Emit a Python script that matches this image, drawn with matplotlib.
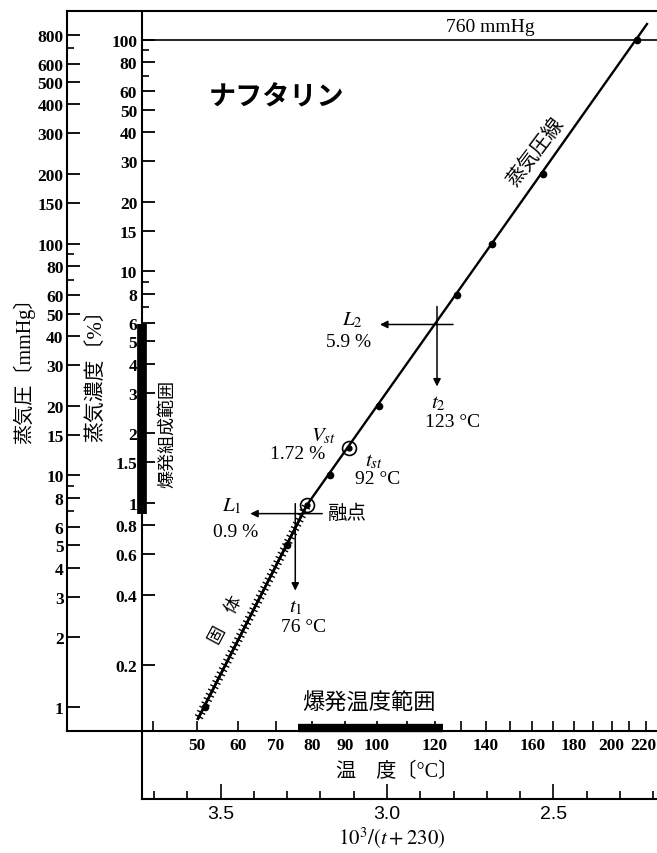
import numpy as np
import matplotlib
matplotlib.use("Agg")
import matplotlib.pyplot as plt
from matplotlib import patheffects as pe
from matplotlib.transforms import ScaledTranslation, blended_transform_factory
from matplotlib.ticker import NullFormatter

# ------------------------------------------------------------------ data
# vapour-pressure line of naphthalene  (temperature °C , pressure mmHg)
solid_t = [50.3, 78.6]
solid_p = [0.89, 7.45]
liquid_t = [78.6, 220.6]
liquid_p = [7.45, 889.0]
dot_t = [52.0, 73.0, 85.3, 100.7, 128.4, 142.5, 165.0, 214.6]
dot_p = [1.0, 5.0, 10.0, 20.0, 60.0, 100.0, 200.0, 760.0]
melt_t, melt_p = 78.6, 7.45
vst_t, vst_pct = 91.0, 1.72          # stoichiometric point
tst_label = 92
L1_pct, t1_label = 0.9, 76           # lower explosion limit
L2_pct, t2_label = 5.9, 123          # upper explosion limit
cross1_t, cross2_t = 75.3, 120.9     # where the limit crosses are drawn
atm_p = 760.0
pct_per_mmHg = 100.0 / 760.0

mm_major = [1, 2, 3, 4, 5, 6, 8, 10, 15, 20, 30, 40, 50, 60, 80, 100,
            150, 200, 300, 400, 500, 600, 800]
mm_minor = [7, 9, 70, 90, 700]
pct_major = [0.2, 0.4, 0.6, 0.8, 1, 1.5, 2, 3, 4, 5, 6, 8, 10, 15, 20,
             30, 40, 50, 60, 80, 100]
pct_labels = ["0.2", "0.4", "0.6", "0.8", "1", "1.5", "2", "3", "4", "5",
              "6", "8", "10", "15", "20", "30", "40", "50", "60", "80", "100"]
pct_minor = [7, 9, 70, 90]
temp_ticks = [40, 50, 60, 70, 80, 90, 100, 110, 120, 130, 140, 150, 160,
              170, 180, 190, 200, 210, 220]
temp_labels = [50, 60, 70, 80, 90, 100, 120, 140, 160, 180, 200, 220]
inv_major = [3.5, 3.0, 2.5]
inv_minor = [3.7, 3.6, 3.4, 3.3, 3.2, 3.1, 2.9, 2.8, 2.7, 2.6, 2.4, 2.3, 2.2]

# ------------------------------------------------------------------ fonts
plt.rcParams["font.family"] = ["Liberation Serif", "Noto Sans CJK JP"]
plt.rcParams["mathtext.fontset"] = "stix"
JP = ["Noto Sans CJK JP", "Liberation Serif"]
MIX = ["Liberation Serif", "Noto Sans CJK JP"]


def u(t):
    return 1000.0 / (np.asarray(t, float) + 230.0)


# ------------------------------------------------------------------ layout (pixels)
W, H = 657, 854
fig = plt.figure(figsize=(W / 100, H / 100), dpi=100)


def fx(x):
    return x / W


def fy(y):
    return 1 - y / H


L, R, T, B, B2 = 67, 657, 12, 732, 800
PCT_X = 142
U_LEFT = 3 + (387 - L) / 333
U_RIGHT = 3 - (R - 387) / 333
PCT_FRAC = (PCT_X - L) / (R - L)
U_PCT = 3 + (387 - PCT_X) / 333
YLIM = (0.788, 1012.0)

ax = fig.add_axes([fx(L), fy(B), (R - L) / W, (B - T) / H])
ax.set_xlim(U_LEFT, U_RIGHT)
ax.set_yscale("log")
ax.set_ylim(*YLIM)
ax.spines["right"].set_visible(False)
for s in ["left", "top", "bottom"]:
    ax.spines[s].set_linewidth(1.5)

ax.set_yticks(mm_major)
ax.set_yticklabels([str(v) for v in mm_major], fontweight="bold")
ax.set_yticks(mm_minor, minor=True)
ax.yaxis.set_minor_formatter(NullFormatter())
ax.tick_params(axis="y", which="major", direction="in", length=9, width=1.3,
               pad=2.5, labelsize=12.5)
ax.tick_params(axis="y", which="minor", direction="in", length=5, width=1.2)

ax.set_xticks(u(temp_ticks))
ax.set_xticklabels([str(t) if t in temp_labels else "" for t in temp_ticks],
                   fontweight="bold")
ax.xaxis.set_minor_locator(matplotlib.ticker.NullLocator())
ax.tick_params(axis="x", direction="in", length=7, width=1.2, pad=4,
               labelsize=12.5)
for lab in ax.get_xticklabels():
    if lab.get_text() == "220":
        lab.set_transform(lab.get_transform() +
                          ScaledTranslation(-3 / 100, 0, fig.dpi_scale_trans))

# % axis
ax2 = fig.add_axes(ax.get_position())
ax2.patch.set_visible(False)
for s in ["top", "right", "bottom"]:
    ax2.spines[s].set_visible(False)
ax2.spines["left"].set_position(("axes", PCT_FRAC))
ax2.spines["left"].set_linewidth(1.5)
ax2.set_xlim(U_LEFT, U_RIGHT)
ax2.set_xticks([])
ax2.set_yscale("log")
ax2.set_ylim(YLIM[0] * pct_per_mmHg, YLIM[1] * pct_per_mmHg)
ax2.set_yticks(pct_major)
ax2.set_yticklabels(pct_labels, fontweight="bold")
ax2.set_yticks(pct_minor, minor=True)
ax2.yaxis.set_minor_formatter(NullFormatter())
ax2.tick_params(axis="y", which="major", direction="in", length=9, width=1.3,
                pad=3.5, labelsize=12.5)
ax2.tick_params(axis="y", which="minor", direction="in", length=5, width=1.2)

# 10^3/(t+230) axis
ax3 = fig.add_axes([fx(L), fy(B2), (R - L) / W, (B2 - B) / H])
ax3.patch.set_visible(False)
ax3.set_xlim(U_LEFT, U_RIGHT)
ax3.set_ylim(0, 1)
for s in ["top", "right"]:
    ax3.spines[s].set_visible(False)
ax3.spines["left"].set_position(("axes", PCT_FRAC))
ax3.spines["left"].set_linewidth(1.5)
ax3.spines["bottom"].set_linewidth(1.5)
ax3.spines["bottom"].set_bounds(U_PCT, U_RIGHT)
ax3.set_yticks([])
ax3.set_xticks(inv_major)
ax3.set_xticklabels([f"{v:.1f}" for v in inv_major], family="Liberation Sans")
ax3.set_xticks(inv_minor, minor=True)
ax3.tick_params(axis="x", which="major", direction="in", length=11, width=1.2,
                pad=4, labelsize=14)
ax3.tick_params(axis="x", which="minor", direction="in", length=6, width=1.2)

# ------------------------------------------------------------------ marks
ax.axhline(atm_p, xmin=PCT_FRAC, xmax=1, color="k", lw=1.2)

ticked = [pe.withTickedStroke(angle=90, spacing=3.4, length=0.8, linewidth=1.0),
          pe.withTickedStroke(angle=-90, spacing=3.4, length=0.8, linewidth=1.0),
          pe.Normal()]
ax.plot(u(solid_t), solid_p, color="k", lw=1.7, path_effects=ticked)
ax.plot(u(liquid_t), liquid_p, color="k", lw=1.7)
ax.plot(u(dot_t), dot_p, "o", color="k", ms=4.5)
for tt, pp in [(melt_t, melt_p), (vst_t, vst_pct / pct_per_mmHg)]:
    ax.plot(u(tt), pp, "o", mfc="none", mec="k", ms=10, mew=1.2)
    ax.plot(u(tt), pp, "o", color="k", ms=3.5)

# explosion composition range on the % axis
bt = blended_transform_factory(ax2.transAxes, ax2.transData)
ax2.plot([PCT_FRAC, PCT_FRAC], [L1_pct, L2_pct], color="k", lw=7,
         solid_capstyle="butt", transform=bt, clip_on=False)
# explosion temperature range on the temperature axis
bt2 = blended_transform_factory(ax.transData, ax.transAxes)
ax.plot(u([t1_label, t2_label]), [0.004, 0.004], color="k", lw=6,
        solid_capstyle="butt", transform=bt2, clip_on=False)


def off(dx, dy):
    return ax.transData + ScaledTranslation(dx / 100, -dy / 100, fig.dpi_scale_trans)


arrow = dict(arrowstyle="-|>", color="k", lw=1.1, mutation_scale=11,
             shrinkA=0, shrinkB=0)


def cross(xy, left, right, up, down):
    ax.annotate("", xy=xy, xycoords=off(-left, 0), xytext=xy,
                textcoords=off(right, 0), arrowprops=arrow)
    ax.annotate("", xy=xy, xycoords=off(0, down), xytext=xy,
                textcoords=off(0, -up), arrowprops=arrow)


def note(xy, s, dx, dy, size=14, **kw):
    ax.annotate(s, xy=xy, xytext=(dx * 0.72, -dy * 0.72),
                textcoords="offset points", ha="center", va="center",
                fontsize=size, **kw)


c1 = (float(u(cross1_t)), L1_pct / pct_per_mmHg)
c2 = (float(u(cross2_t)), L2_pct / pct_per_mmHg)
cross(c1, 45, 27, 10, 77)
cross(c2, 57, 16, 18, 62)
note(c1, r"$L_1$", -63, -8, 15)
note(c1, f"{L1_pct} %", -60, 18)
note(c1, r"$t_1$", 1, 93, 15)
note(c1, f"{t1_label} °C", 8, 113)
note(c2, r"$L_2$", -85, -5, 15)
note(c2, f"{L2_pct} %", -88, 17)
note(c2, r"$t_2$", 1, 78, 15)
note(c2, f"{t2_label} °C", 16, 97)
cv = (float(u(vst_t)), vst_pct / pct_per_mmHg)
note(cv, r"$V_{st}$", -25, -13, 15)
note(cv, f"{vst_pct} %", -51, 5)
note(cv, r"$t_{st}$", 25, 12, 15)
note(cv, f"{tst_label} °C", 29, 30)
cm = (float(u(melt_t)), melt_p)
note(cm, "融点", 40, 7, 14, family=JP)

# ------------------------------------------------------------------ texts
fig.text(fx(276), fy(97), "ナフタリン", family=JP, fontsize=19.5,
         fontweight="bold", ha="center", va="center")
fig.text(fx(490), fy(27), "760 mmHg", fontsize=14, ha="center", va="center")
fig.text(fx(535), fy(152), "蒸気圧線", family=JP, fontsize=14.5, rotation=53,
         ha="center", va="center", rotation_mode="anchor")
fig.text(fx(226), fy(620), "固　体", family=JP, fontsize=12.5, rotation=62,
         ha="center", va="center", rotation_mode="anchor")
fig.text(fx(24), fy(366), "蒸気圧〔mmHg〕", family=MIX, fontsize=14.5,
         rotation=90, ha="center", va="center")
fig.text(fx(97), fy(371), "蒸気濃度〔%〕", family=MIX, fontsize=15,
         rotation=90, ha="center", va="center")
fig.text(fx(167), fy(434), "爆発組成範囲", family=JP, fontsize=13,
         rotation=90, ha="center", va="center")
fig.text(fx(369), fy(703), "爆発温度範囲", family=JP, fontsize=16,
         ha="center", va="center")
fig.text(fx(397), fy(772), "温　度〔°C〕", family=MIX, fontsize=14.5,
         ha="center", va="center")
fig.text(fx(392), fy(838), r"$10^3/(t+230)$", fontsize=15,
         ha="center", va="center")

fig.savefig("out.png", dpi=100)
